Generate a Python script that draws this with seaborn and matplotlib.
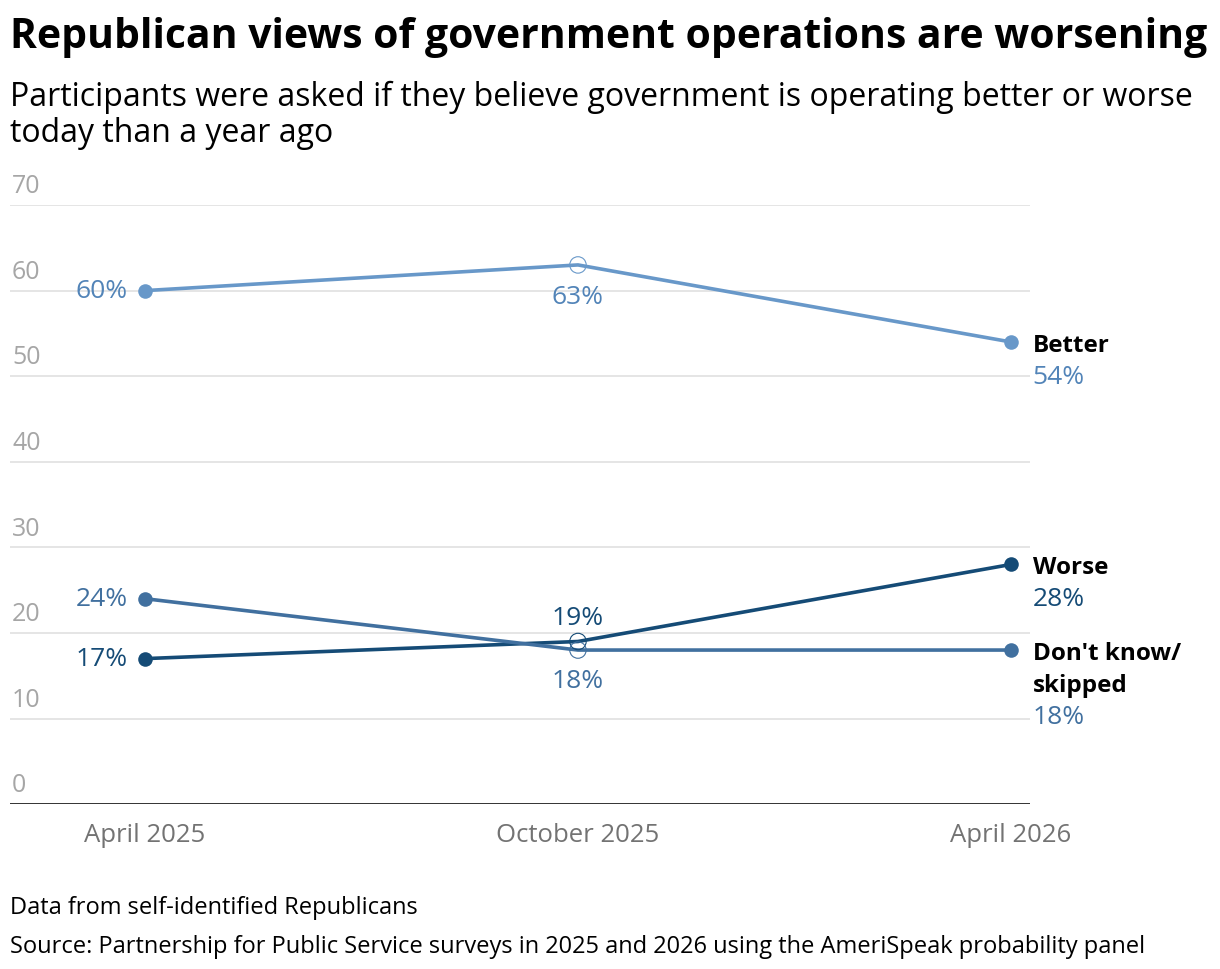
import pandas as pd
import matplotlib.pyplot as plt
import seaborn as sns

# data
periods = ['April 2025', 'October 2025', 'April 2026']
better = [60, 63, 54]
worse = [17, 19, 28]
dont_know = [24, 18, 18]
series_names = ['Better', 'Worse', "Don't know/\nskipped"]
colors = ['#6898c9', '#154b76', '#41709f']
y_ticks = [0, 10, 20, 30, 40, 50, 60, 70]

sns.set_theme(style='white')
plt.rcParams['font.family'] = ['Open Sans', 'DejaVu Sans']

df = pd.DataFrame({'period': periods * 3,
                   'value': better + worse + dont_know,
                   'series': [s for s in series_names for _ in periods]})
df['x'] = df['period'].map({p: i for i, p in enumerate(periods)})

fig = plt.figure(figsize=(12.2, 9.7), dpi=100)
ax = fig.add_axes([0.0082, 0.170, 0.836, 0.6176])

sns.lineplot(data=df, x='x', y='value', hue='series', palette=colors,
             linewidth=2.6, legend=False, ax=ax, zorder=3)

ax.set_xlim(-0.312, 2.044)
ax.set_ylim(0, 70)

# markers: filled at ends, hollow in the middle
for (name, grp), col in zip(df.groupby('series', sort=False), colors):
    ends = grp[grp['x'] != 1]
    mid = grp[grp['x'] == 1]
    ax.scatter(ends['x'], ends['value'], s=110, color=col, zorder=4, linewidths=0)
    ax.scatter(mid['x'], mid['value'], s=140, facecolor='none', edgecolor=col,
               linewidths=0.8, zorder=4)

# gridlines and y tick labels
for t in y_ticks:
    if t == 0:
        ax.axhline(0, color='#333333', linewidth=1.4, zorder=2)
    else:
        ax.axhline(t, color='#e0e0e0', linewidth=1.2, zorder=1)
    ax.text(0.002, t + 0.8, str(t), transform=ax.get_yaxis_transform(),
            ha='left', va='bottom', fontsize=18, color='#a6a6a6')

ax.set_yticks([])
ax.set_xticks(range(len(periods)))
ax.set_xticklabels(periods, fontsize=18.5, color='#737373')
ax.tick_params(axis='x', length=0, pad=13)
ax.set_xlabel('')
ax.set_ylabel('')
sns.despine(ax=ax, left=True, bottom=True)

# value labels
label_cols = ['#5284b8', '#154b76', '#41709f']
vals = [better, worse, dont_know]
fs = 19
for v, col in zip(vals, label_cols):
    ax.text(-0.04, v[0], f'{v[0]}%', ha='right', va='center', fontsize=fs, color=col)
ax.text(1, better[1] - 3.7, f'{better[1]}%', ha='center', va='center', fontsize=fs, color=label_cols[0])
ax.text(1, worse[1] + 2.8, f'{worse[1]}%', ha='center', va='center', fontsize=fs, color=label_cols[1])
ax.text(1, dont_know[1] - 3.6, f'{dont_know[1]}%', ha='center', va='center', fontsize=fs, color=label_cols[2])

# end labels, one line of text at a time
for name, v, col in zip(series_names, vals, label_cols):
    lines = name.split('\n')
    for i, line in enumerate(lines):
        ax.text(2.05, v[2] - 0.3 - 3.75 * i, line, ha='left', va='center',
                fontsize=17.5, fontweight='bold', color='black')
    ax.text(2.05, v[2] - 4.0 - 3.75 * (len(lines) - 1), f'{v[2]}%', ha='left', va='center',
            fontsize=fs, color=col)

# titles and notes
fig.text(0.008, 0.961, 'Republican views of government operations are worsening',
         ha='left', va='center', fontsize=29.4, fontweight='bold', color='black')
fig.text(0.008, 0.881, 'Participants were asked if they believe government is operating better or worse\ntoday than a year ago',
         ha='left', va='center', fontsize=23, color='black', linespacing=1.1)
fig.text(0.008, 0.064, 'Data from self-identified Republicans', ha='left', va='center',
         fontsize=17, color='black')
fig.text(0.008, 0.024, 'Source: Partnership for Public Service surveys in 2025 and 2026 using the AmeriSpeak probability panel',
         ha='left', va='center', fontsize=17, color='black')

fig.savefig('out.png', dpi=100, facecolor='white')
